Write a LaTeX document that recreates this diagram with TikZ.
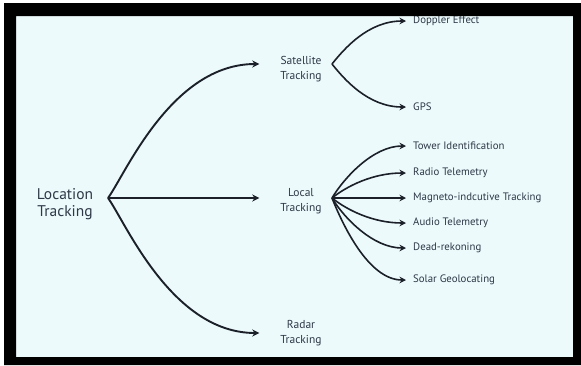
\documentclass[tikz,border=0pt]{standalone}
\usepackage{fontspec}
\setmainfont{PT Sans}
\usetikzlibrary{arrows.meta}

\definecolor{bgcyan}{HTML}{ECFAFC}
\definecolor{txt}{HTML}{2E3846}
\definecolor{ln}{HTML}{1B2029}

\begin{document}
\begin{tikzpicture}[x=1pt, y=-1pt, main/.style = {text=txt, align=center, inner sep=0pt, font=\fontsize{15.5}{17.5}\selectfont}, mid/.style = {text=txt, align=center, inner sep=0pt, font=\fontsize{11.5}{15}\selectfont}, leaf/.style = {text=txt, anchor=west, inner sep=0pt, font=\fontsize{10.8}{12}\selectfont}, arr/.style = {draw=ln, line width=1.9pt, shorten >=21pt, -{Stealth[length=7pt,width=7pt]}}, sub/.style = {draw=ln, line width=1.6pt, shorten >=7pt, -{Stealth[length=6.5pt,width=6.5pt]}}]
\useasboundingbox (0,0) rectangle (581,365);
\fill[white] (0,0) rectangle (581,365);
\fill[bgcyan] (16,16) rectangle (573,357);

\node[main] (1) at (65,204) {Location\\Tracking};
\node[mid] (2) at (301,69) {Satellite\\Tracking};
\node[mid] (3) at (301,201) {Local\\Tracking};
\node[mid] (4) at (301,333) {Radar\\Tracking};
\node[leaf] (5) at (413,21) {Doppler Effect};
\node[leaf] (6) at (413,107) {GPS};
\node[leaf] (7) at (413,146) {Tower Identification};
\node[leaf] (8) at (413,173) {Radio Telemetry};
\node[leaf] (9) at (413,198) {Magneto-indcutive Tracking};
\node[leaf] (10) at (413,223) {Audio Telemetry};
\node[leaf] (11) at (413,248) {Dead-rekoning};
\node[leaf] (12) at (413,280) {Solar Geolocating};

\coordinate (f1) at (108,198);
\coordinate (f2) at (332,64);
\coordinate (f3) at (332,198);

\draw[arr] (f1) .. controls +(17,-23) and +(-109,0) .. (2.west |- f2);
\draw[arr] (f1) -- (3.west |- f1);
\draw[arr] (f1) .. controls +(17,23) and +(-109,0) .. (4.west);

\draw[sub] (f2) .. controls +(12,-15) and +(-45,0) .. (5.west);
\draw[sub] (f2) .. controls +(12,15) and +(-45,0) .. (6.west);

\draw[sub] (f3) .. controls +(12,-20) and +(-40,0) .. (7.west);
\draw[sub] (f3) .. controls +(15,-12) and +(-40,0) .. (8.west);
\draw[sub] (f3) -- (9.west);
\draw[sub] (f3) .. controls +(15,12) and +(-40,0) .. (10.west);
\draw[sub] (f3) .. controls +(12,20) and +(-40,0) .. (11.west);
\draw[sub] (f3) .. controls +(10,25) and +(-45,0) .. (12.west);

\fill[black, even odd rule] (4,3) rectangle (581,365) (16,16) rectangle (573,357);
\end{tikzpicture}
\end{document}
